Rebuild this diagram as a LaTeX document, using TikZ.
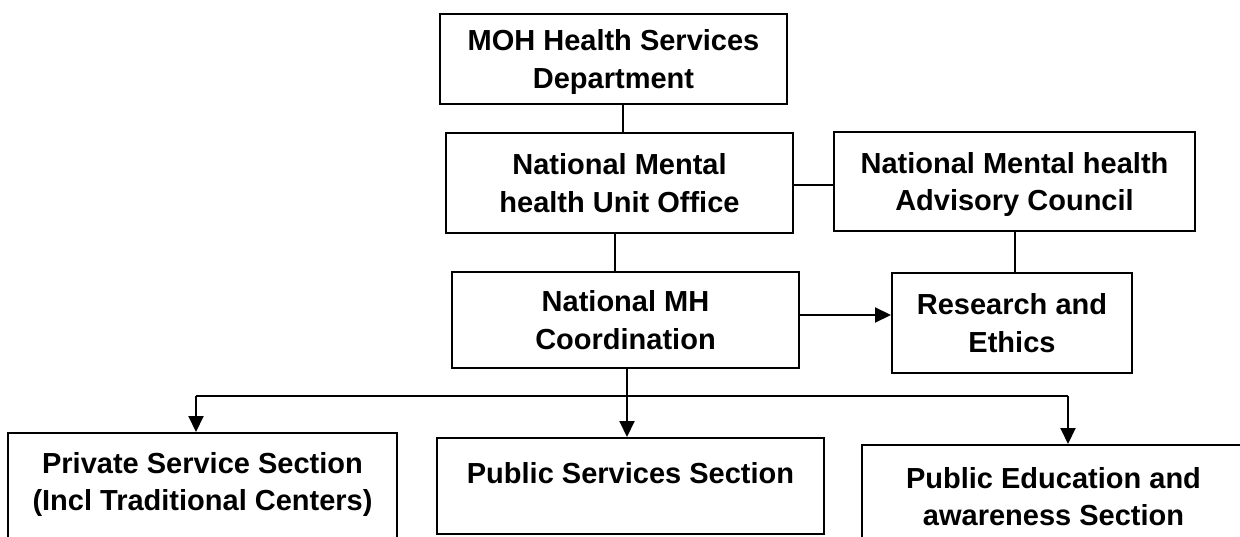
\documentclass[tikz,border=0pt]{standalone}
\usepackage{fontspec}
\setmainfont{Liberation Sans}
\usetikzlibrary{arrows.meta}
\begin{document}
\begin{tikzpicture}[x=1pt,y=-1pt,
  lbl/.style={font=\bfseries\fontsize{29}{37.5}\selectfont,align=center},
  box/.style={draw,line width=2pt,inner sep=0pt,text depth=0pt,lbl},
  txt/.style={inner sep=0pt,lbl},
  conn/.style={line width=2pt},
  arr/.style={conn,-{Triangle[length=16pt,width=15pt]}}]
\useasboundingbox (0,0) rectangle (1240,536);
\clip (0,0) rectangle (1240,536);

\node[box,minimum width=347pt,minimum height=90pt] (moh) at (613.5,59) {MOH Health Services\\Department};
\node[box,minimum width=347pt,minimum height=100pt] (unit) at (619.5,183) {National Mental\\health Unit Office};
\node[box,minimum width=347pt,minimum height=96pt] (coord) at (625.5,320) {National MH\\Coordination};
\node[box,minimum width=361pt,minimum height=99pt] (council) at (1014.5,181.5) {National Mental health\\Advisory Council};
\node[box,minimum width=240pt,minimum height=100pt] (research) at (1012,323) {Research and\\Ethics};

\node[box,minimum width=389pt,minimum height=130pt] (priv) at (202.5,498) {};
\node[box,minimum width=387pt,minimum height=96pt] (pub) at (630.5,486) {};
\node[box,minimum width=383pt,minimum height=130pt] (edu) at (1053.5,510) {};
\node[txt,anchor=north] (privt) at (202.5,452) {Private Service Section\\(Incl Traditional Centers)};
\node[txt,anchor=north] (pubt) at (630.5,462) {Public Services Section};
\node[txt,anchor=north] (edut) at (1053.5,467) {Public Education and\\awareness Section};

\draw[conn] ([xshift=9.5pt]moh.south) -- ([xshift=3.5pt]unit.north);
\draw[conn] ([xshift=-4.5pt]unit.south) -- ([xshift=-10.5pt]coord.north);
\draw[conn] ([yshift=-2pt]unit.east) -- ([yshift=-2pt]unit.east -| council.west);
\draw[conn] (council.south) -- (council.south |- research.north);
\draw[arr] ([yshift=5pt]coord.east) -- ([yshift=5pt]coord.east -| research.west);

\coordinate (j) at (627,396);
\coordinate (jl) at (196,396);
\coordinate (jr) at (1068,396);
\draw[conn] (coord.south -| j) -- (j);
\draw[conn] (jl) -- (jr);
\draw[arr] (jl) -- (jl |- priv.north);
\draw[arr] (j) -- (j |- pub.north);
\draw[arr] (jr) -- (jr |- edu.north);
\end{tikzpicture}
\end{document}
